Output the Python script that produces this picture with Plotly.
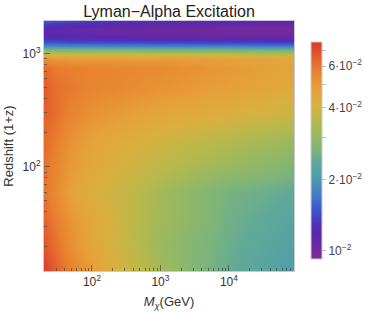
import numpy as np
import plotly.graph_objects as go

# Dark-matter mass (GeV) and redshift (1+z) grid
mass_gev = [20, 30, 50, 100, 300, 1000, 3000, 10000, 30000, 90000]
redshift = [12, 20, 35, 60, 100, 170, 300, 500, 750, 880, 950, 1020, 1100,
            1180, 1270, 1380, 1500, 1650, 1800, 1950]

# Lyman-alpha excitation fraction, one row per redshift
excitation = [
    [0.0743, 0.0655, 0.0565, 0.0488, 0.0395, 0.0327, 0.0276, 0.0243, 0.0224, 0.0206],
    [0.0682, 0.0615, 0.0531, 0.0458, 0.0378, 0.0313, 0.0276, 0.0249, 0.0229, 0.0215],
    [0.0641, 0.0577, 0.0508, 0.0448, 0.0378, 0.0320, 0.0288, 0.0254, 0.0238, 0.0224],
    [0.0601, 0.0542, 0.0468, 0.0421, 0.0378, 0.0327, 0.0288, 0.0259, 0.0249, 0.0238],
    [0.0615, 0.0553, 0.0498, 0.0448, 0.0404, 0.0363, 0.0334, 0.0307, 0.0288, 0.0270],
    [0.0628, 0.0577, 0.0519, 0.0468, 0.0430, 0.0395, 0.0371, 0.0348, 0.0327, 0.0313],
    [0.0655, 0.0615, 0.0565, 0.0519, 0.0488, 0.0458, 0.0439, 0.0421, 0.0404, 0.0386],
    [0.0668, 0.0615, 0.0589, 0.0565, 0.0542, 0.0519, 0.0498, 0.0478, 0.0458, 0.0439],
    [0.0628, 0.0589, 0.0577, 0.0565, 0.0553, 0.0542, 0.0519, 0.0498, 0.0478, 0.0458],
    [0.0531, 0.0519, 0.0508, 0.0508, 0.0498, 0.0498, 0.0488, 0.0478, 0.0458, 0.0448],
    [0.0448, 0.0448, 0.0439, 0.0439, 0.0439, 0.0430, 0.0430, 0.0421, 0.0421, 0.0412],
    [0.0356, 0.0356, 0.0348, 0.0348, 0.0341, 0.0341, 0.0334, 0.0334, 0.0327, 0.0327],
    [0.0259, 0.0259, 0.0254, 0.0254, 0.0254, 0.0249, 0.0249, 0.0249, 0.0243, 0.0243],
    [0.0185, 0.0185, 0.0182, 0.0182, 0.0182, 0.0177, 0.0177, 0.0177, 0.0174, 0.0174],
    [0.0147, 0.0147, 0.0144, 0.0144, 0.0141, 0.0141, 0.0138, 0.0138, 0.0135, 0.0135],
    [0.0124, 0.0124, 0.0122, 0.0120, 0.0119, 0.0117, 0.0116, 0.0115, 0.0114, 0.0114],
    [0.0117, 0.0116, 0.0114, 0.0112, 0.0109, 0.0107, 0.0105, 0.0103, 0.0101, 0.0100],
    [0.0116, 0.0114, 0.0111, 0.0108, 0.0105, 0.0103, 0.0101, 0.0099, 0.0098, 0.0098],
    [0.0132, 0.0128, 0.0124, 0.0120, 0.0116, 0.0113, 0.0111, 0.0109, 0.0107, 0.0106],
    [0.0150, 0.0145, 0.0140, 0.0135, 0.0130, 0.0126, 0.0123, 0.0121, 0.0119, 0.0118],
]

x_tick_vals = [100, 1000, 10000]
x_tick_text = ["10<sup>2</sup>", "10<sup>3</sup>", "10<sup>4</sup>"]
y_tick_vals = [100, 1000]
y_tick_text = ["10<sup>2</sup>", "10<sup>3</sup>"]
cbar_tick_vals = [0.01, 0.02, 0.03, 0.04, 0.05, 0.06, 0.07]
cbar_tick_text = ["10<sup>−2</sup>", "2·10<sup>−2</sup>", "", "4·10<sup>−2</sup>",
                  "", "6·10<sup>−2</sup>", ""]

rainbow = [
    [0.00, "#7a2c98"], [0.065, "#6a2aa0"], [0.11, "#5a28b0"], [0.16, "#5030b8"],
    [0.20, "#4048c8"], [0.25, "#4060d0"], [0.29, "#4878c8"], [0.34, "#4890b8"],
    [0.39, "#50a0a8"], [0.45, "#60a898"], [0.50, "#7cb47a"], [0.57, "#98b860"],
    [0.64, "#b8b84a"], [0.71, "#d8b040"], [0.78, "#e6a03a"], [0.87, "#e8802e"],
    [0.94, "#e25a2c"], [1.00, "#da3828"],
]

zlog = np.log10(np.array(excitation))
zmin, zmax = -2.034, -1.12

minor_x = [m * 10 ** d for d in range(1, 5) for m in range(2, 10)]
minor_y = [m * 10 ** d for d in range(1, 4) for m in range(2, 10)]

font = "Liberation Sans, Arial, sans-serif"
tickcol = "rgba(70,70,70,0.7)"

fig = go.Figure(go.Heatmap(
    x=mass_gev, y=redshift, z=zlog, zsmooth="best",
    colorscale=rainbow, zmin=zmin, zmax=zmax, hoverinfo="skip",
    colorbar=dict(
        x=1.068, xanchor="left", y=0.482, yanchor="middle",
        len=0.868, lenmode="fraction", thickness=11, xpad=0, ypad=0,
        outlinecolor="#cccccc", outlinewidth=1,
        tickmode="array", tickvals=list(np.log10(cbar_tick_vals)),
        ticktext=cbar_tick_text, ticks="outside", ticklen=4,
        tickcolor="#bbbbbb", tickfont=dict(family=font, size=12, color="#444"),
    ),
))

fig.update_layout(
    width=374, height=313,
    margin=dict(l=44, r=80, t=21, b=42, autoexpand=False),
    paper_bgcolor="white", plot_bgcolor="white",
    title=dict(text="Lyman−Alpha Excitation", x=0.452, xanchor="center",
               y=0.962, yanchor="middle",
               font=dict(family=font, size=16, color="#222")),
    font=dict(family=font, size=12, color="#333"),
)
fig.update_xaxes(
    type="log", range=[1.30, 4.95], automargin=False,
    tickmode="array", tickvals=x_tick_vals, ticktext=x_tick_text,
    ticks="inside", ticklen=6, tickcolor=tickcol, tickwidth=1,
    minor=dict(tickvals=minor_x, ticks="inside", ticklen=3, tickcolor=tickcol),
    showgrid=False, zeroline=False, showline=True, linecolor="#c8c8d0",
    mirror=True, tickfont=dict(size=12, color="#333"),
    title=dict(text="<i>M</i><sub><i>χ</i></sub>(GeV)", standoff=8,
               font=dict(size=13, color="#333")),
)
fig.update_yaxes(
    type="log", range=[1.08, 3.29], automargin=False,
    tickmode="array", tickvals=y_tick_vals, ticktext=y_tick_text,
    ticks="inside", ticklen=6, tickcolor=tickcol, tickwidth=1,
    minor=dict(tickvals=minor_y, ticks="inside", ticklen=3, tickcolor=tickcol),
    showgrid=False, zeroline=False, showline=True, linecolor="#c8c8d0",
    mirror=True, tickfont=dict(size=12, color="#333"),
    title=dict(text="Redshift (1+z)", standoff=6,
               font=dict(size=13, color="#333")),
)

fig.write_html("out.html", config={"displayModeBar": False},
               post_script="document.body.style.margin='0';"
                           "document.body.style.overflow='hidden';")
